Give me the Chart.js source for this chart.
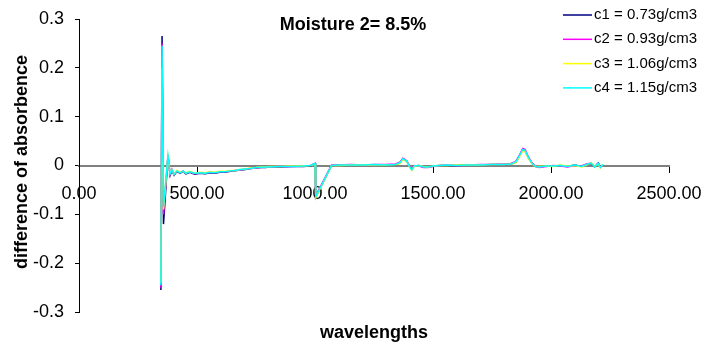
<!DOCTYPE html>
<html>
<head>
<meta charset="utf-8">
<script src="https://cdn.jsdelivr.net/npm/chart.js@4.4.1/dist/chart.umd.min.js"></script>
<style>
    html, body { margin: 0; padding: 0; background: #fff; }
    #wrap { width: 702px; height: 345px; }
</style>
</head>
<body>
<div id="wrap"><canvas id="moisture_chart" width="702" height="345"></canvas></div>
<script>
// wavelengths (nm) shared by all four curves
const wavelengths = [
    347, 352, 358, 377, 386, 394, 403, 415, 428, 441,
    453, 470, 490, 513, 535, 555, 575, 597, 620, 640,
    660, 682, 705, 725, 750, 767, 790, 809, 850, 900,
    950, 980, 995, 1000, 1003, 1070, 1100, 1150, 1200, 1250,
    1300, 1340, 1360, 1372, 1380, 1390, 1400, 1410, 1420, 1440,
    1460, 1480, 1500, 1530, 1560, 1600, 1650, 1700, 1750, 1800,
    1830, 1850, 1865, 1880, 1890, 1905, 1920, 1935, 1950, 1980,
    2010, 2040, 2070, 2100, 2130, 2150, 2170, 2185, 2200, 2210,
    2220
];

const c1 = [
    -0.255, 0.265, -0.12, 0.02, -0.02, -0.01, -0.02, -0.012, -0.016, -0.012,
    -0.017, -0.014, -0.018, -0.016, -0.017, -0.015, -0.016, -0.014, -0.014, -0.012,
    -0.011, -0.009, -0.008, -0.006, -0.005, -0.004, -0.004, -0.003, -0.003, -0.002,
    -0.002, -0.001, 0.003, 0.004, -0.065, 0.000, 0.001, 0.001, 0.001, 0.001,
    0.001, 0.002, 0.005, 0.013, 0.012, 0.008, -0.002, -0.008, -0.001, 0.000,
    -0.003, -0.003, -0.001, 0.000, 0.000, 0.000, 0.001, 0.001, 0.002, 0.002,
    0.003, 0.006, 0.018, 0.032, 0.030, 0.015, 0.004, -0.002, -0.003, -0.001,
    -0.001, 0.000, -0.002, 0.001, -0.002, 0.002, 0.004, -0.003, 0.005, -0.004,
    0.002
];
const c2 = [
    -0.25, 0.25, -0.10, 0.022, -0.018, -0.008, -0.019, -0.011, -0.015, -0.011,
    -0.016, -0.013, -0.017, -0.015, -0.016, -0.014, -0.015, -0.013, -0.013, -0.011,
    -0.010, -0.009, -0.007, -0.006, -0.005, -0.004, -0.003, -0.003, -0.002, -0.002,
    -0.001, 0.000, 0.002, 0.004, -0.062, 0.001, 0.001, 0.002, 0.001, 0.002,
    0.002, 0.003, 0.007, 0.015, 0.013, 0.009, -0.001, -0.007, 0.000, -0.001,
    -0.004, -0.004, -0.002, 0.000, 0.001, 0.000, 0.001, 0.002, 0.002, 0.003,
    0.004, 0.008, 0.020, 0.035, 0.033, 0.017, 0.005, -0.001, -0.004, -0.002,
    0.000, -0.001, -0.003, 0.000, -0.001, 0.003, 0.005, -0.002, 0.004, -0.003,
    0.001
];
const c3 = [
    -0.24, 0.20, -0.09, 0.018, -0.016, -0.009, -0.018, -0.010, -0.014, -0.012,
    -0.015, -0.012, -0.016, -0.014, -0.015, -0.013, -0.014, -0.012, -0.012, -0.010,
    -0.010, -0.008, -0.007, -0.005, -0.004, -0.003, -0.003, -0.002, -0.002, -0.001,
    -0.001, 0.000, 0.002, 0.003, -0.066, 0.000, 0.000, 0.001, 0.001, 0.001,
    0.001, 0.002, 0.004, 0.012, 0.011, 0.007, -0.003, -0.010, -0.002, 0.000,
    -0.002, -0.003, -0.001, 0.000, 0.000, 0.001, 0.001, 0.001, 0.002, 0.002,
    0.003, 0.005, 0.017, 0.030, 0.029, 0.014, 0.003, -0.002, -0.002, -0.001,
    -0.002, 0.001, -0.001, 0.000, -0.003, 0.001, 0.006, -0.002, 0.003, -0.005,
    0.003
];
const c4 = [
    -0.245, 0.245, -0.085, 0.02, -0.017, -0.009, -0.018, -0.011, -0.015, -0.011,
    -0.016, -0.013, -0.016, -0.015, -0.016, -0.014, -0.015, -0.013, -0.013, -0.011,
    -0.010, -0.008, -0.007, -0.006, -0.004, -0.004, -0.003, -0.003, -0.002, -0.002,
    -0.001, 0.000, 0.003, 0.004, -0.064, 0.000, 0.001, 0.001, 0.001, 0.002,
    0.001, 0.002, 0.006, 0.014, 0.012, 0.008, -0.002, -0.009, -0.001, 0.000,
    -0.003, -0.003, -0.001, 0.000, 0.001, 0.000, 0.001, 0.001, 0.002, 0.002,
    0.003, 0.007, 0.019, 0.033, 0.031, 0.016, 0.004, -0.002, -0.003, -0.001,
    -0.001, 0.000, -0.002, 0.001, -0.002, 0.002, 0.005, -0.003, 0.004, -0.004,
    0.002
];

const seriesLabels = ["c1 = 0.73g/cm3", "c2 = 0.93g/cm3", "c3 = 1.06g/cm3", "c4 = 1.15g/cm3"];
const seriesColors = ["#000080", "#ff00ff", "#ffff00", "#00ffff"];
const chartTitle = "Moisture 2= 8.5%";
const xTitle = "wavelengths";
const yTitle = "difference of absorbence";

function toPoints(values) {
    return values.map(function (v, i) {
        return {x: wavelengths[i], y: v};
    });
}

// titles and the legend are drawn by hand, Excel style
const textPlugin = {
    id: "textPlugin",
    afterDraw: function (chart) {
        const ctx = chart.ctx;
        ctx.save();
        ctx.fillStyle = "#000";
        ctx.textBaseline = "middle";

        ctx.font = "bold 18px 'Liberation Sans'";
        ctx.textAlign = "center";
        ctx.fillText(chartTitle, 353, 25);
        ctx.fillText(xTitle, 374, 333);

        ctx.save();
        ctx.translate(22, 162);
        ctx.rotate(-Math.PI / 2);
        ctx.fillText(yTitle, 0, 0);
        ctx.restore();

        ctx.font = "15px 'Liberation Sans'";
        ctx.textAlign = "left";
        chart.data.datasets.forEach(function (ds, i) {
            const y = 15 + i * 24.3;
            ctx.strokeStyle = ds.borderColor;
            ctx.lineWidth = 1.5;
            ctx.beginPath();
            ctx.moveTo(563, y);
            ctx.lineTo(592, y);
            ctx.stroke();
            ctx.fillText(ds.label, 594, y);
        });
        ctx.restore();
    }
};

new Chart(document.getElementById("moisture_chart").getContext("2d"), {
    type: "line",
    data: {
        datasets: [c1, c2, c3, c4].map(function (values, i) {
            return {
                label: seriesLabels[i],
                data: toPoints(values),
                borderColor: seriesColors[i],
                borderWidth: 1.5,
                pointRadius: 0,
                tension: 0,
                order: 4 - i
            };
        })
    },
    options: {
        responsive: false,
        animation: false,
        events: [],
        layout: {padding: {left: 0, right: 33, top: 19, bottom: 33}},
        plugins: {
            legend: {display: false},
            tooltip: {enabled: false}
        },
        scales: {
            x: {
                type: "linear",
                position: {y: 0},
                min: 0,
                max: 2500,
                border: {color: "#808080", width: 2},
                grid: {drawOnChartArea: false, drawTicks: true, tickLength: 6, color: "#000"},
                afterFit: function (scale) {
                    scale.paddingLeft = 0;
                    scale.paddingRight = 0;
                },
                ticks: {
                    stepSize: 500,
                    maxRotation: 0,
                    padding: 12,
                    color: "#000",
                    font: {family: "Liberation Sans", size: 18},
                    callback: function (v) { return v.toFixed(2); }
                }
            },
            y: {
                min: -0.3,
                max: 0.3,
                border: {color: "#000", width: 1},
                grid: {drawOnChartArea: false, drawTicks: true, tickLength: 4, color: "#000"},
                afterFit: function (scale) {
                    scale.width = 79;
                    scale.paddingTop = 0;
                    scale.paddingBottom = 0;
                },
                ticks: {
                    stepSize: 0.1,
                    padding: 11,
                    color: "#000",
                    font: {family: "Liberation Sans", size: 18},
                    callback: function (v) { return String(Number(v.toFixed(1))); }
                }
            }
        }
    },
    plugins: [textPlugin]
});
</script>
</body>
</html>
